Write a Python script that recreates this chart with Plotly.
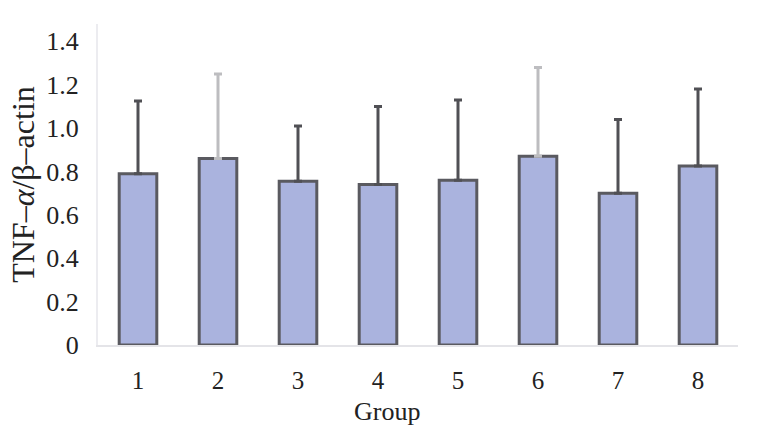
import plotly.graph_objects as go

groups = ["1", "2", "3", "4", "5", "6", "7", "8"]
means = [0.79, 0.86, 0.755, 0.74, 0.76, 0.87, 0.70, 0.825]
errors = [0.335, 0.39, 0.255, 0.36, 0.37, 0.41, 0.34, 0.355]
light_err_groups = ["2", "6"]
y_ticks = [0, 0.2, 0.4, 0.6, 0.8, 1.0, 1.2, 1.4]
y_tick_text = ["0", "0.2", "0.4", "0.6", "0.8", "1.0", "1.2", "1.4"]

fill = "#aab3de"
edge = "#5a5a60"

dark_y = [m if g not in light_err_groups else None for g, m in zip(groups, means)]
dark_e = [e if g not in light_err_groups else None for g, e in zip(groups, errors)]
light_y = [m if g in light_err_groups else None for g, m in zip(groups, means)]
light_e = [e if g in light_err_groups else None for g, e in zip(groups, errors)]

fig = go.Figure()
fig.add_trace(go.Bar(
    x=groups, y=dark_y, width=0.47,
    marker=dict(color=fill, line=dict(color=edge, width=3)),
    error_y=dict(type="data", symmetric=False, array=dark_e, arrayminus=[0]*8,
                 color="#505055", thickness=3, width=4),
))
fig.add_trace(go.Bar(
    x=groups, y=light_y, width=0.47,
    marker=dict(color=fill, line=dict(color=edge, width=3)),
    error_y=dict(type="data", symmetric=False, array=light_e, arrayminus=[0]*8,
                 color="#bdbdc0", thickness=3, width=4),
))

font_family = "Liberation Serif, Times New Roman, serif"
fig.update_layout(
    width=780, height=432,
    margin=dict(l=98, r=42, t=24, b=87, autoexpand=False),
    paper_bgcolor="white", plot_bgcolor="white",
    barmode="overlay", showlegend=False,
    font=dict(family=font_family, color="#222222", size=24),
    xaxis=dict(
        type="category", range=[-0.5, 7.5], automargin=False,
        showline=True, linecolor="#e4e4e8", linewidth=2,
        showgrid=False, ticks="", ticklabelstandoff=12,
        tickfont=dict(size=25, family=font_family, color="#222222"),
    ),
    yaxis=dict(
        range=[0, 1.48], tickvals=y_ticks, ticktext=y_tick_text, automargin=False,
        showline=True, linecolor="#ececf0", linewidth=2,
        showgrid=False, zeroline=False, ticks="", ticklabelstandoff=12,
        tickfont=dict(size=26, family=font_family, color="#222222"),
        title=dict(text="TNF\u2013<i>\u03b1</i>/\u03b2\u2013actin",
                   font=dict(size=32, family=font_family, color="#222222"),
                   standoff=2),
    ),
    annotations=[dict(
        text="Group", xref="paper", yref="paper", x=0.452, y=-0.206,
        xanchor="center", yanchor="middle", showarrow=False,
        font=dict(size=26, family=font_family, color="#222222"),
    )],
)

fig.write_html("out.html", config={"displayModeBar": False},
               post_script="document.body.style.margin='0';")
